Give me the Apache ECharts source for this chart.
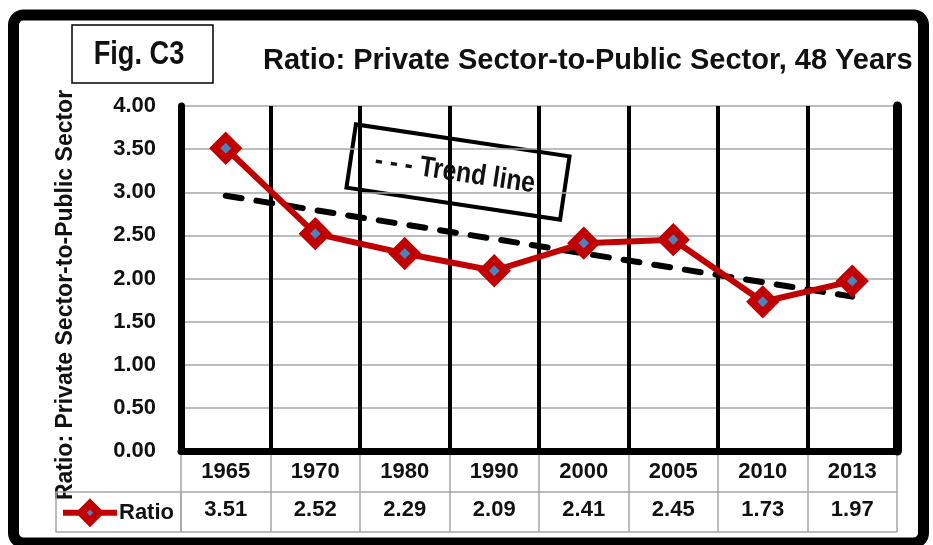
<!DOCTYPE html>
<html>
<head>
<meta charset="utf-8">
<script src="https://cdn.jsdelivr.net/npm/echarts@6/dist/echarts.min.js"></script>
<style>
  html, body { margin: 0; padding: 0; background: #fff; }
  #chart { width: 933px; height: 545px; }
</style>
</head>
<body>
<div id="chart"></div>
<script>
// Survey years and the private-to-public sector ratio for each
const years = ['1965', '1970', '1980', '1990', '2000', '2005', '2010', '2013'];
const ratioValues = [3.51, 2.52, 2.29, 2.09, 2.41, 2.45, 1.73, 1.97];

// Straight trend line: value at the first and last year
const trendYears = ['1965', '2013'];
const trendValues = [2.96, 1.79];

// Value axis ticks
const yMin = 0, yMax = 4, yStep = 0.5;

const FONT = "'Liberation Sans', Arial, sans-serif";
const RED = '#C00000';
const BLUE = '#4F81BD';
const GRID_GREY = '#a6a6a6';

const chart = echarts.init(document.getElementById('chart'), null, { renderer: 'canvas' });

const option = {
  animation: false,
  backgroundColor: '#ffffff',
  title: {
    text: 'Ratio: Private Sector-to-Public Sector, 48 Years',
    left: 263,
    top: 46,
    padding: 0,
    textStyle: { fontFamily: FONT, fontWeight: 'bold', fontSize: 29, color: '#111' }
  },
  legend: {
    data: ['Ratio'],
    left: 60,
    top: 500,
    itemWidth: 54,
    itemHeight: 22,
    padding: 0,
    lineStyle: { color: RED, width: 6 },
    itemStyle: { color: BLUE, borderColor: RED, borderWidth: 8 },
    textStyle: { fontFamily: FONT, fontWeight: 'bold', fontSize: 22, color: '#111', padding: [0, 0, 0, -3] }
  },
  grid: [
    { left: 181, right: 36, top: 106, bottom: 94, containLabel: false },
    { left: 181, right: 36, top: 451, bottom: 13, containLabel: false }
  ],
  xAxis: [
    {
      type: 'category', gridIndex: 0, data: years, boundaryGap: true,
      axisLine: { show: true, lineStyle: { color: '#000', width: 7 } },
      axisTick: { show: false },
      splitLine: { show: true, lineStyle: { color: '#000', width: 4 } },
      axisLabel: { fontFamily: FONT, fontWeight: 'bold', fontSize: 22, color: '#111', margin: 10 }
    },
    {
      type: 'category', gridIndex: 0, position: 'bottom', offset: 38,
      data: ratioValues.map(v => v.toFixed(2)),
      axisLine: { show: false }, axisTick: { show: false }, splitLine: { show: false },
      axisLabel: { fontFamily: FONT, fontWeight: 'bold', fontSize: 22, color: '#111', margin: 10 }
    },
    {
      type: 'category', gridIndex: 1, data: years,
      axisLine: { show: false }, axisTick: { show: false }, axisLabel: { show: false },
      splitLine: { show: true, lineStyle: { color: GRID_GREY, width: 1.5 } }
    }
  ],
  yAxis: [
    {
      type: 'value', gridIndex: 0, min: yMin, max: yMax, interval: yStep,
      axisLine: { show: true, lineStyle: { color: '#000', width: 7 } },
      axisTick: { show: false },
      splitLine: { show: true, lineStyle: { color: GRID_GREY, width: 1.5 } },
      axisLabel: {
        fontFamily: FONT, fontWeight: 'bold', fontSize: 22, color: '#111', margin: 25,
        formatter: v => v.toFixed(2)
      }
    },
    {
      type: 'value', gridIndex: 0, position: 'right', min: yMin, max: yMax, interval: yStep,
      axisLine: { show: true, lineStyle: { color: '#000', width: 9 } },
      axisTick: { show: false }, axisLabel: { show: false }, splitLine: { show: false }
    },
    {
      type: 'value', gridIndex: 1, min: 0, max: 2, interval: 1,
      axisLine: { show: false }, axisTick: { show: false }, axisLabel: { show: false },
      splitLine: { show: true, lineStyle: { color: GRID_GREY, width: 1.5 } }
    }
  ],
  series: [
    {
      name: 'Trend',
      type: 'line',
      xAxisIndex: 0, yAxisIndex: 0,
      data: trendYears.map((y, i) => [y, trendValues[i]]),
      symbol: 'none',
      z: 2,
      lineStyle: { color: '#000', width: 6, type: [16, 15], cap: 'round' }
    },
    {
      name: 'Ratio',
      type: 'line',
      xAxisIndex: 0, yAxisIndex: 0,
      data: ratioValues,
      symbol: 'diamond',
      symbolSize: 22,
      z: 3,
      lineStyle: { color: RED, width: 6 },
      itemStyle: { color: BLUE, borderColor: RED, borderWidth: 8 }
    }
  ],
  graphic: [
    // outer frame
    {
      type: 'rect', silent: true, z: 100,
      shape: { x: 13.5, y: 15, width: 910, height: 528, r: 10 },
      style: { fill: 'none', stroke: '#000', lineWidth: 11 }
    },
    // figure tag
    {
      type: 'rect', silent: true,
      shape: { x: 72, y: 25, width: 141, height: 58 },
      style: { fill: '#fff', stroke: '#000', lineWidth: 1.5 }
    },
    {
      type: 'text', silent: true, x: 139, y: 55, scaleX: 0.8,
      style: {
        text: 'Fig. C3', fontFamily: FONT, fontWeight: 'bold', fontSize: 34,
        fill: '#111', align: 'center', verticalAlign: 'middle'
      }
    },
    // value axis title
    {
      type: 'text', silent: true, x: 66, y: 295, rotation: Math.PI / 2,
      style: {
        text: 'Ratio: Private Sector-to-Public Sector', fontFamily: FONT, fontWeight: 'bold',
        fontSize: 23, fill: '#111', align: 'center', verticalAlign: 'middle'
      }
    },
    // legend cell of the data table
    {
      type: 'rect', silent: true,
      shape: { x: 56, y: 492, width: 125, height: 40 },
      style: { fill: 'none', stroke: GRID_GREY, lineWidth: 1.5 }
    },
    // trend line callout
    {
      type: 'group', x: 458, y: 172, rotation: -8.5 * Math.PI / 180, z: 50,
      children: [
        {
          type: 'rect', shape: { x: -108, y: -32, width: 216, height: 64 },
          style: { fill: '#fff', stroke: '#000', lineWidth: 4 }
        },
        {
          type: 'text', x: -3, y: 1, scaleX: 0.85,
          style: {
            text: '- - - Trend line', fontFamily: FONT, fontWeight: 'bold', fontSize: 29,
            fill: '#111', align: 'center', verticalAlign: 'middle'
          }
        }
      ]
    }
  ]
};

chart.setOption(option);
</script>
</body>
</html>
